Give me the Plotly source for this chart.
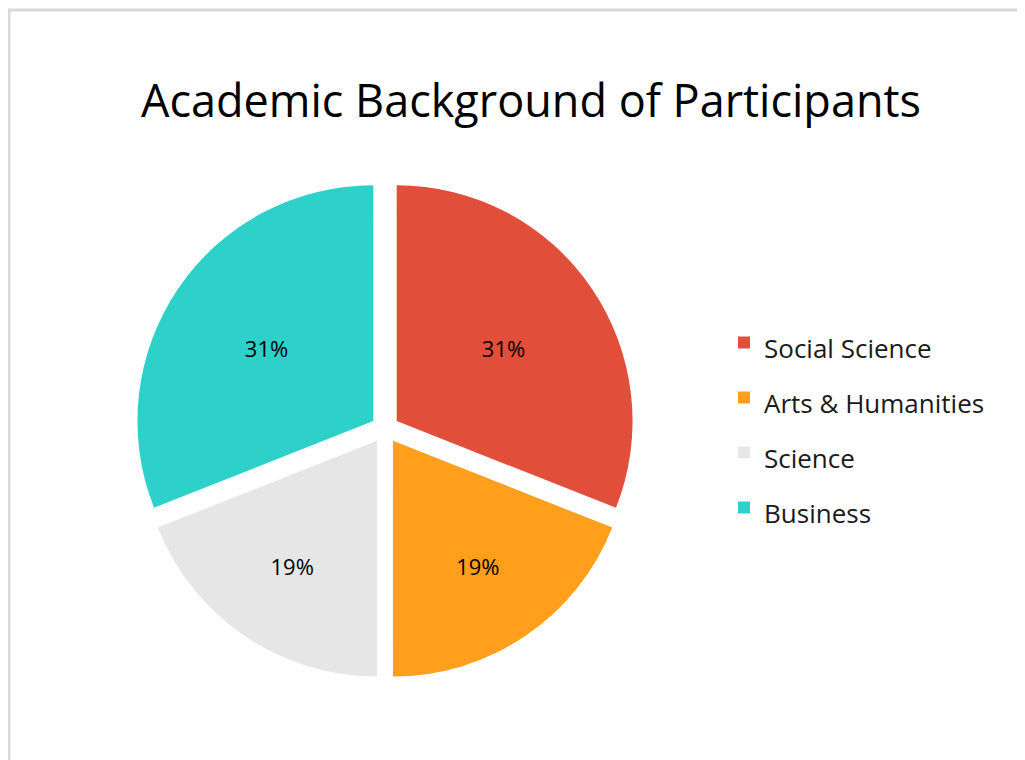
import plotly.graph_objects as go

categories = ["Social Science", "Arts & Humanities", "Science", "Business"]
values = [31, 19, 19, 31]
colors = ["#E14F3A", "#FF9F1C", "#E6E6E6", "#2ED1C9"]

# the page body adds an 8px margin; figure coords are reference px - 8
OFF = 8
W, H = 1025 - OFF, 760 - OFF
FONT = "Open Sans"


def px(x):
    return (x - OFF) / W


def py(y):
    return 1 - (y - OFF) / H


legend_labels = ['<span style="font-size:26px">%s</span>' % c for c in categories]

fig = go.Figure(go.Pie(
    labels=legend_labels,
    values=values,
    sort=False,
    direction="clockwise",
    rotation=0,
    pull=[0.06] * len(values),
    marker=dict(colors=colors, line=dict(width=0)),
    textinfo="percent",
    texttemplate="%{percent:.0%}",
    textposition="inside",
    insidetextorientation="horizontal",
    textfont=dict(family=FONT, size=22, color="#000000"),
    hoverinfo="label+percent",
    domain=dict(x=[px(135), px(635)], y=[py(679), py(179)]),
))

fig.update_layout(
    width=W, height=H,
    margin=dict(l=0, r=0, t=0, b=0),
    paper_bgcolor="white",
    plot_bgcolor="white",
    title=dict(text="Academic Background of Participants",
               font=dict(family=FONT, size=45, color="#000000"),
               x=px(531), xanchor="center", y=py(101), yanchor="middle"),
    legend=dict(font=dict(family=FONT, size=40, color="#1a1a1a"),
                x=px(724), xanchor="left", y=py(310), yanchor="top",
                tracegroupgap=0, itemsizing="constant",
                bgcolor="rgba(0,0,0,0)"),
    shapes=[dict(type="rect", xref="paper", yref="paper",
                 x0=px(9), x1=1.05, y0=-0.05, y1=py(10),
                 line=dict(color="#D9D9D9", width=3), layer="below")],
)

fig.write_html("out.html")
